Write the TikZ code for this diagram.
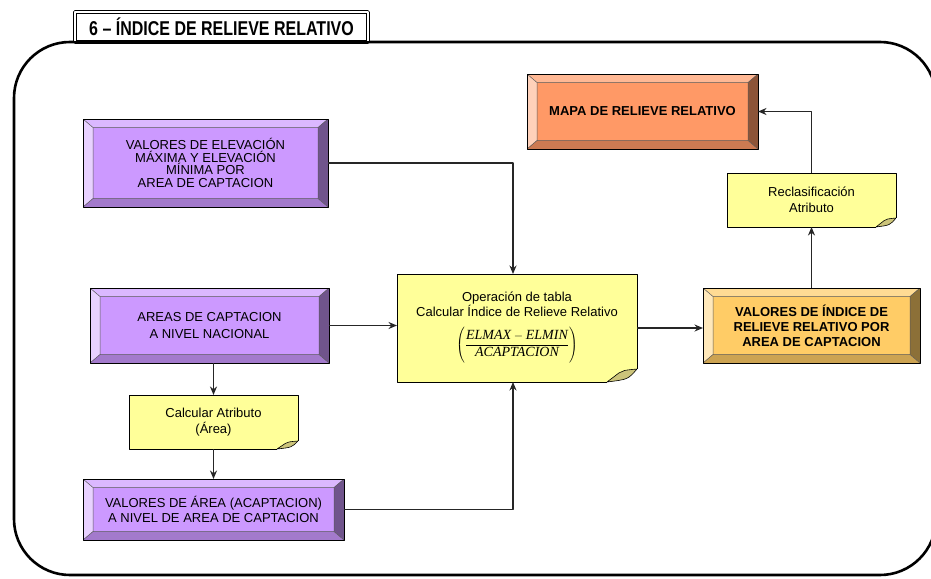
\documentclass[tikz,border=0pt]{standalone}
\usepackage{fontspec}
\usepackage{graphicx}
\setmainfont{Liberation Sans}
\newfontfamily\formfont{Liberation Serif}
\usetikzlibrary{arrows.meta,positioning}

\definecolor{lila}{RGB}{204,153,255}
\definecolor{naranja}{RGB}{255,204,102}
\definecolor{salmon}{RGB}{255,153,102}
\definecolor{notay}{RGB}{255,255,153}
\definecolor{pliegue}{RGB}{204,196,122}

\tikzset{
  caja/.style={rectangle, draw=black, line width=1pt, inner sep=0pt, outer sep=0pt, align=center},
  bevel/.style={caja, fill=#1, path picture={
      \path (path picture bounding box.north west) coordinate (bnw)
            (path picture bounding box.north east) coordinate (bne)
            (path picture bounding box.south east) coordinate (bse)
            (path picture bounding box.south west) coordinate (bsw);
      \fill[#1!70!white] (bnw) -- (bne) -- ([shift={(-10,8.5)}]bne) -- ([shift={(10,8.5)}]bnw) -- cycle;   % arriba
      \fill[#1!45!white] (bnw) -- ([shift={(10,8.5)}]bnw) -- ([shift={(10,-8.5)}]bsw) -- (bsw) -- cycle;    % izquierda
      \fill[#1!55!black] (bne) -- ([shift={(-10,8.5)}]bne) -- ([shift={(-10,-8.5)}]bse) -- (bse) -- cycle;  % derecha
      \fill[#1!80!black] (bsw) -- ([shift={(10,-8.5)}]bsw) -- ([shift={(-10,-8.5)}]bse) -- (bse) -- cycle;  % abajo
      \draw[black!65, line width=0.5pt] ([shift={(10,8.5)}]bnw) rectangle ([shift={(-10,-8.5)}]bse)
            (bnw) -- ++(10,8.5) (bne) -- ++(-10,8.5) (bse) -- ++(-10,-8.5) (bsw) -- ++(10,-8.5);
    }},
  nota/.style={caja, fill=notay},
  conn/.style={->, draw=black!85, line width=1.6pt},
}
\newcommand{\formit}[1]{\hbox{\fontsize{14}{14}\selectfont\formfont\itshape #1}}

\begin{document}
\begin{tikzpicture}[x=1pt, y=-1pt, >={Stealth[length=8.5pt,width=7pt]}, line join=round,
    font=\fontsize{13}{15.5}\selectfont]
  \useasboundingbox (0,0) rectangle (931,578);
  \def\fold#1#2#3{% nodo, ancho, alto
    \fill[white] ([shift={(0,-#3)}]#1.south east) -- ([shift={(2,-#3)}]#1.south east) -- ([shift={(2,2)}]#1.south east)
      -- ([shift={(-#2,2)}]#1.south east) -- ([shift={(-#2,0)}]#1.south east)
      .. controls ([shift={(-#2*0.3,-#3*0.2)}]#1.south east) .. ([shift={(0,-#3)}]#1.south east) -- cycle;
    \filldraw[fill=pliegue, line width=0.6pt] ([shift={(0,-#3)}]#1.south east)
      .. controls ([shift={(-#2*0.45,-#3*0.9)}]#1.south east) .. ([shift={(-#2*0.6,-#3*0.7)}]#1.south east)
      -- ([shift={(-#2,0)}]#1.south east)
      .. controls ([shift={(-#2*0.3,-#3*0.2)}]#1.south east) .. ([shift={(0,-#3)}]#1.south east);
  }
  % marco y titulo
  \draw[line width=2.6pt, rounded corners=56pt] (14,42) rectangle (936,575);
  \node[caja, fill=white, double, double distance=2pt, line width=0.9pt, minimum width=293pt, minimum height=30pt]
    (titulo) at (221.5,27) {\scalebox{0.8}[1]{\fontsize{20}{20}\selectfont\bfseries 6 – ÍNDICE DE RELIEVE RELATIVO}};
  \draw[line width=2.6pt] (70,42) -- (880,42);

  % cajas
  \node[bevel=lila, minimum width=245pt, minimum height=88pt, font=\fontsize{13}{12.6}\selectfont] (elev) at (205.5,163)
    {VALORES DE ELEVACIÓN\\MÁXIMA Y ELEVACIÓN\\MÍNIMA POR\\AREA DE CAPTACION};
  \node[bevel=lila, minimum width=239pt, minimum height=75pt, font=\fontsize{13}{16.5}\selectfont] (areas) at (209.5,325.5)
    {AREAS DE CAPTACION\\A NIVEL NACIONAL};
  \node[nota, minimum width=169pt, minimum height=54pt] (calc) at (213.5,422) {Calcular Atributo\\(Área)};
  \node[bevel=lila, minimum width=261pt, minimum height=61pt, font=\fontsize{13}{14.5}\selectfont, below=30pt of calc] (area)
    {VALORES DE ÁREA (ACAPTACION)\\A NIVEL DE AREA DE CAPTACION};
  \node[nota, minimum width=240pt, minimum height=108pt] (op) at (517,328)
    {Operación de tabla\\Calcular Índice de Relieve Relativo\\[9pt]
     $\displaystyle\left(\vrule height 18pt depth 16pt width 0pt
       \frac{\formit{ELMAX} - \formit{ELMIN}}{\formit{ACAPTACION}}\right)$};
  \node[bevel=naranja, minimum width=217pt, minimum height=75pt, font=\fontsize{13}{15}\selectfont\bfseries] (indice) at (811.5,325.5)
    {VALORES DE ÍNDICE DE\\RELIEVE RELATIVO POR\\AREA DE CAPTACION};
  \node[nota, minimum width=169pt, minimum height=54pt] (recl) at (811.5,200) {Reclasificación\\Atributo};
  \node[bevel=salmon, minimum width=231pt, minimum height=75pt, font=\fontsize{13}{15}\selectfont\bfseries] (mapa) at (642.5,111.5)
    {MAPA DE RELIEVE RELATIVO};
  \fold{op}{30}{13}
  \fold{calc}{21}{8}
  \fold{recl}{20}{9}

  % conectores
  \draw[conn] (elev.east) -| ([xshift=-4pt]op.north);
  \draw[conn] (areas.east) -- (areas.east -| op.west);
  \draw[conn] (calc.north |- areas.south) -- (calc.north);
  \draw[conn] (calc.south) -- (area.north);
  \draw[conn] (area.east) -| ([xshift=-4pt]op.south);
  \draw[conn] (op.east) -- (op.east -| indice.west);
  \draw[conn] (indice.north) -- (recl.south);
  \draw[conn] (recl.north) |- (mapa.east);
\end{tikzpicture}
\end{document}
